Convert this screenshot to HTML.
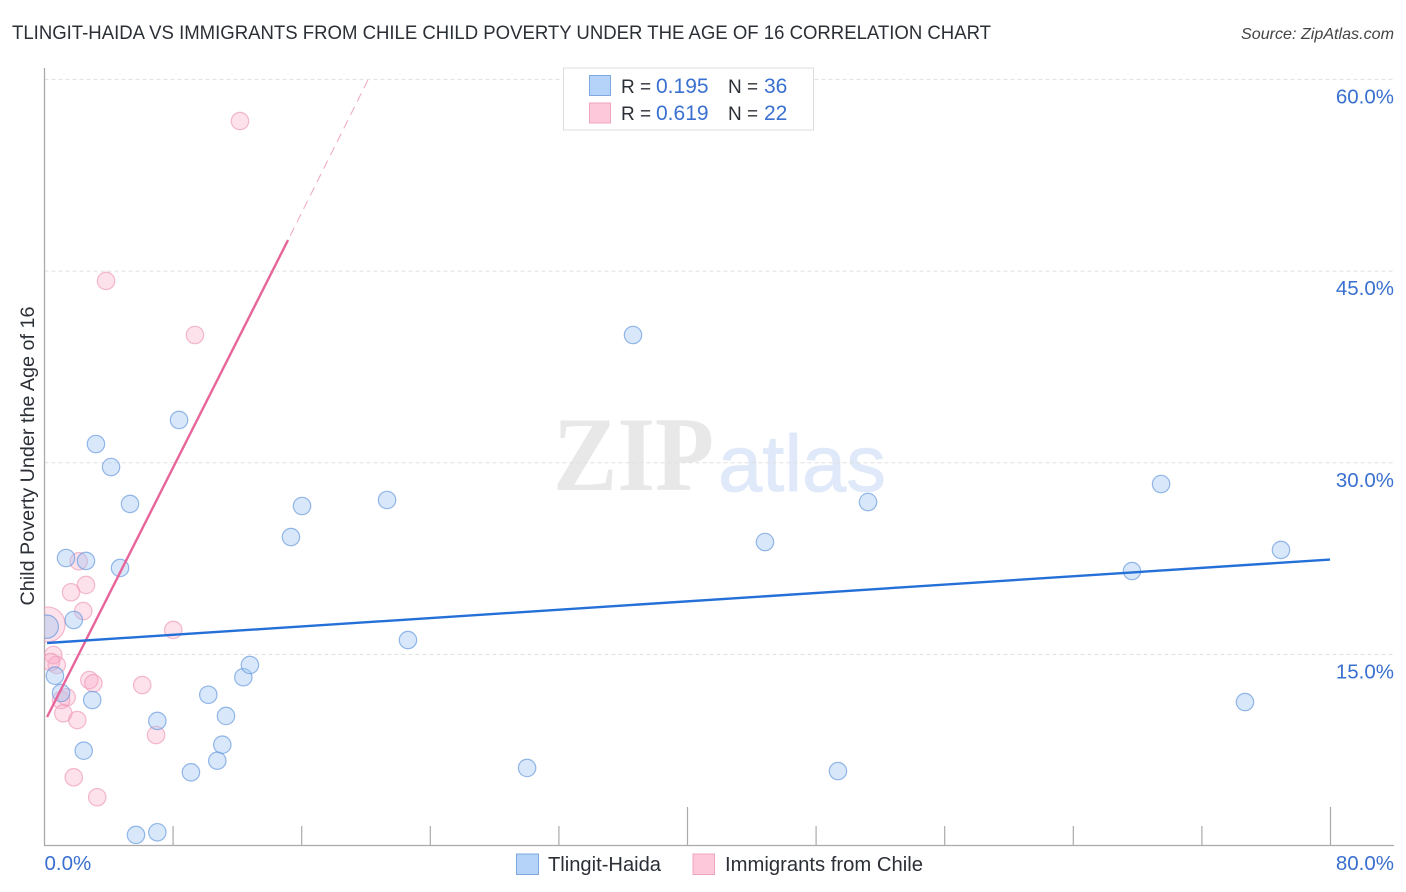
<!DOCTYPE html>
<html>
<head>
<meta charset="utf-8">
<style>
html,body{margin:0;padding:0;background:#fff;width:1406px;height:892px;overflow:hidden}
svg{display:block;font-family:"Liberation Sans",sans-serif}
</style>
</head>
<body>
<svg id="chart" xmlns="http://www.w3.org/2000/svg" width="1406" height="892" viewBox="0 0 1406 892">
  <defs><clipPath id="plot-clip"><rect x="44.5" y="60" width="1350" height="790"/></clipPath></defs>
  <text x="12" y="39" font-size="19.5" fill="#2b2f36" textLength="979" lengthAdjust="spacingAndGlyphs">TLINGIT-HAIDA VS IMMIGRANTS FROM CHILE CHILD POVERTY UNDER THE AGE OF 16 CORRELATION CHART</text>
  <text x="1241" y="39" font-size="16" font-style="italic" fill="#444" textLength="153" lengthAdjust="spacingAndGlyphs">Source: ZipAtlas.com</text>

  <g>
    <text x="553" y="490" font-family="'Liberation Serif',serif" font-weight="bold" font-size="106" fill="#e8e8e8" textLength="161" lengthAdjust="spacingAndGlyphs">ZIP</text>
    <text x="718" y="491" font-size="80" fill="#dfe9f9" stroke="#dfe9f9" stroke-width="0.8" textLength="168" lengthAdjust="spacingAndGlyphs">atlas</text>
  </g>

  <g id="grid"></g>
  <g id="axes"></g>
  <g id="y-labels"></g>
  <g id="x-labels"></g>
  <g id="points" clip-path="url(#plot-clip)"></g>
  <g id="trends"></g>

  <text transform="translate(34,456) rotate(-90)" font-size="19.5" fill="#2b2f36" text-anchor="middle" textLength="299" lengthAdjust="spacingAndGlyphs">Child Poverty Under the Age of 16</text>

  <g>
    <rect x="563.5" y="68" width="250" height="62" fill="#fff" stroke="#dcdcdc" stroke-width="1"/>
    <rect x="589.5" y="75.5" width="21" height="20" fill="#b5d3f8" stroke="#7ea8e0"/>
    <rect x="589.5" y="103" width="21" height="20" fill="#fcc8da" stroke="#f0a5c0"/>
    <text y="93" font-size="20.5" fill="#2b2f36"><tspan x="621" font-size="19">R =</tspan><tspan x="656" fill="#3a70d0" font-size="21">0.195</tspan><tspan x="728" font-size="19">N =</tspan><tspan x="764" fill="#3a70d0" font-size="21">36</tspan></text>
    <text y="120" font-size="20.5" fill="#2b2f36"><tspan x="621" font-size="19">R =</tspan><tspan x="656" fill="#3a70d0" font-size="21">0.619</tspan><tspan x="728" font-size="19">N =</tspan><tspan x="764" fill="#3a70d0" font-size="21">22</tspan></text>
  </g>

  <g>
    <rect x="516.5" y="854" width="22" height="20.5" fill="#b5d3f8" stroke="#7ea8e0"/>
    <text x="548" y="871" font-size="20" fill="#2b2f36" textLength="113" lengthAdjust="spacingAndGlyphs">Tlingit-Haida</text>
    <rect x="693" y="854" width="21.5" height="20.5" fill="#fcc8da" stroke="#f0a5c0"/>
    <text x="725" y="871" font-size="20" fill="#2b2f36" textLength="198" lengthAdjust="spacingAndGlyphs">Immigrants from Chile</text>
  </g>
</svg>
<script>
const yTicks = [15, 30, 45, 60];
const yTickLabels = ["15.0%", "30.0%", "45.0%", "60.0%"];
const xTicks = [8, 16, 24, 32, 40, 48, 56, 64, 72, 80];
const xMajorTicks = [40, 80];
const xEndTicks = [0, 80];
const xEndLabels = ["0.0%", "80.0%"];

const blueX = [0.14,1.34,2.58,4.70,1.82,0.65,1.03,2.97,7.02,2.44,5.69,7.02,9.11,10.75,11.06,11.29,10.19,12.37,12.78,3.20,4.14,5.32,8.37,15.33,16.02,21.31,22.61,30.02,36.61,44.82,49.36,51.23,67.65,69.46,74.68,76.92];
const blueY = [17.18,22.55,22.32,21.77,17.70,13.34,11.99,11.44,9.80,7.47,0.88,1.09,5.78,6.69,7.94,10.19,11.85,13.22,14.18,31.47,29.67,26.78,33.35,24.19,26.62,27.09,16.13,6.12,40.00,23.80,5.88,26.93,21.53,28.34,11.28,23.18];
const blueWeight = [1.8,1,1,1,1,1,1,1,1,1,1,1,1,1,1,1,1,1,1,1,1,1,1,1,1,1,1,1,1,1,1,1,1,1,1,1];

const pinkX = [0.19,2.13,2.58,1.65,2.41,8.01,0.55,0.76,0.40,2.79,3.04,6.08,1.38,1.03,1.17,2.04,6.94,1.82,3.28,12.16,3.83,9.36];
const pinkY = [17.35,22.29,20.44,19.87,18.40,16.92,14.96,14.18,14.41,13.00,12.75,12.61,11.65,11.44,10.40,9.87,8.70,5.39,3.83,56.74,44.23,40.00];
const pinkWeight = [4.05,1,1,1,1,1,1,1,1,1,1,1,1,1,1,1,1,1,1,1,1,1];

const blueTrendX = [0.16, 79.97];
const blueTrendY = [15.90, 22.43];
const pinkTrendX = [0.16, 15.15];
const pinkTrendY = [10.11, 47.43];
const pinkDashX = [15.15, 20.12];
const pinkDashY = [47.43, 59.95];

const NS = "http://www.w3.org/2000/svg";
const xScale = function (v) { return 44.5 + v * 16.075; };
const yScale = function (v) { return 846.2 - v * 12.78; };
const BASE_R = 8.7;

function make(parentId, tag, attrs) {
  const el = document.createElementNS(NS, tag);
  Object.keys(attrs).forEach(function (k) { el.setAttribute(k, attrs[k]); });
  document.getElementById(parentId).appendChild(el);
  return el;
}

yTicks.forEach(function (t, i) {
  const line = make("grid", "line", { x1: 44.5, x2: 1394, y1: yScale(t), y2: yScale(t), stroke: "#e0e0e0", "stroke-width": 1, "stroke-dasharray": "4 3" });
  
  
  const label = make("y-labels", "text", { x: 1394, y: yScale(t) + 24, "font-size": 20.5, fill: "#3a70d0", "text-anchor": "end" });
  label.textContent = yTickLabels[i];
  
  
});

const yAxisLine = make("axes", "line", { x1: 44.5, x2: 44.5, y1: 68, y2: 846, stroke: "#aaa", "stroke-width": 1.3 });


const xAxisLine = make("axes", "line", { x1: 44, x2: 1394, y1: 845.5, y2: 845.5, stroke: "#aaa", "stroke-width": 1.3 });



xTicks.forEach(function (t) {
  const top = xMajorTicks.indexOf(t) >= 0 ? 807 : 826;
  const tick = make("axes", "line", { x1: xScale(t), x2: xScale(t), y1: top, y2: 845.5, stroke: "#aaa", "stroke-width": 1.2 });
  
  
});

xEndTicks.forEach(function (t, i) {
  const label = make("x-labels", "text", { x: i === 0 ? xScale(t) : 1394, y: 870, "font-size": 20.5, fill: "#3a70d0", "text-anchor": i === 0 ? "start" : "end" });
  label.textContent = xEndLabels[i];
  
  
});

pinkX.forEach(function (x, i) {
  const c = make("points", "circle", { cx: xScale(x), cy: yScale(pinkY[i]), r: BASE_R * Math.sqrt(pinkWeight[i]), fill: "#f9a8c4", "fill-opacity": 0.34, stroke: "#ee9dba", "stroke-opacity": 0.7, "stroke-width": 1.2 });
  
  
});

blueX.forEach(function (x, i) {
  const c = make("points", "circle", { cx: xScale(x), cy: yScale(blueY[i]), r: BASE_R * Math.sqrt(blueWeight[i]), fill: "#a3c7f3", "fill-opacity": 0.42, stroke: "#5f93dc", "stroke-opacity": 0.65, "stroke-width": 1.2 });
  
  
});

const pinkTrend = make("trends", "line", { x1: xScale(pinkTrendX[0]), y1: yScale(pinkTrendY[0]), x2: xScale(pinkTrendX[1]), y2: yScale(pinkTrendY[1]), stroke: "#e8659a", "stroke-width": 2.4 });


const pinkDash = make("trends", "line", { x1: xScale(pinkDashX[1]), y1: yScale(pinkDashY[1]), x2: xScale(pinkDashX[0]), y2: yScale(pinkDashY[0]), stroke: "#eb8fb2", "stroke-width": 1, "stroke-opacity": 0.8, "stroke-dasharray": "9 6" });


const blueTrend = make("trends", "line", { x1: xScale(blueTrendX[0]), y1: yScale(blueTrendY[0]), x2: xScale(blueTrendX[1]), y2: yScale(blueTrendY[1]), stroke: "#2470d8", "stroke-width": 2.4 });


</script>
</body>
</html>
